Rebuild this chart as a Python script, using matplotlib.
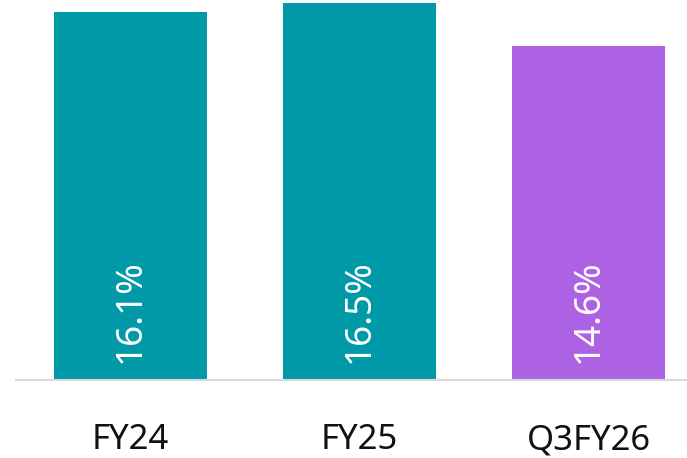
import matplotlib
matplotlib.use('Agg')
from matplotlib import pyplot as plt
from matplotlib import transforms

categories = ['FY24', 'FY25', 'Q3FY26']
values = [16.1, 16.5, 14.6]
labels = ['16.1%', '16.5%', '14.6%']
colors = ['#0099A8', '#0099A8', '#AD62E3']

plt.rcParams['font.family'] = ['Noto Sans', 'DejaVu Sans']

fig = plt.figure(figsize=(6.87, 4.58), dpi=100)
ax = fig.add_axes([16 / 687, 1 - 380 / 458, 1 - 16 / 687, 380 / 458])

x = list(range(len(categories)))
ax.bar(x, values, color=colors, width=0.668)

ax.set_xlim(-0.5, 2.43)
ax.set_ylim(0, 16.62)

# value labels, rotated, near the bottom of each bar
offset = transforms.offset_copy(ax.transData, fig=fig, x=0, y=17, units='dots')
for i in x:
    ax.text(i, 0, labels[i], rotation=90, ha='center', va='bottom',
            color='white', fontsize=26.5, transform=offset)

ax.set_xticks(x)
ax.set_xticklabels(categories, fontsize=25, color='#111111')
ax.tick_params(axis='x', length=0, pad=31)
ax.set_yticks([])

for side in ['top', 'left', 'right']:
    ax.spines[side].set_visible(False)
ax.spines['bottom'].set_color('#D9D9D9')
ax.spines['bottom'].set_linewidth(1.5)

fig.savefig('out.png', dpi=100)
